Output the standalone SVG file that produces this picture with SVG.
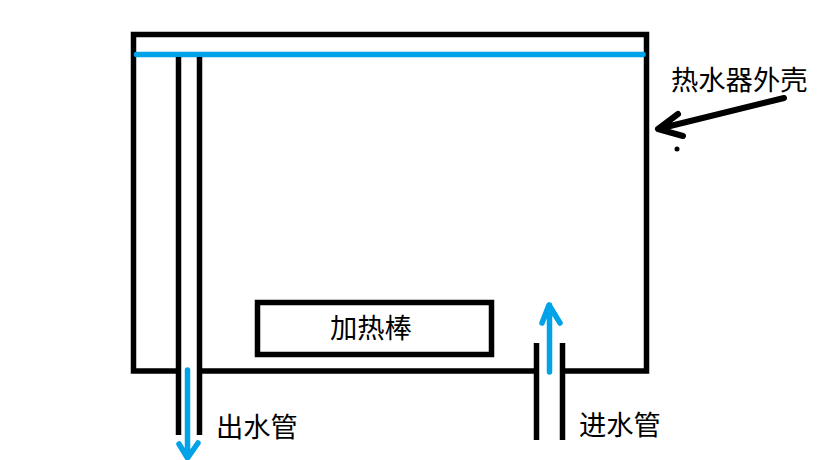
<svg xmlns="http://www.w3.org/2000/svg" width="819" height="460" viewBox="0 0 819 460">
<style>
.box{fill:none;stroke:#000;stroke-width:5.500}
.k{fill:none;stroke:#000;stroke-width:5.500}
.b{fill:none;stroke:#00a2e8;stroke-width:5.500;stroke-linecap:round;stroke-linejoin:round}
.a{fill:none;stroke:#000;stroke-width:6;stroke-linecap:round;stroke-linejoin:round}
text{font-family:"Noto Sans CJK SC","Noto Sans",sans-serif;font-size:27.300px;fill:#000}
</style>
<rect width="819" height="460" fill="#fff"/>
<g id="shell">
<path class="k" d="M181 371H133.500V34.500H646.500V371H560M534 371H197"/>
<line class="b" x1="136.500" y1="54.500" x2="643" y2="54.500"/>
</g>
<g id="heater">
<rect class="box" x="257.500" y="302.500" width="234" height="52"/>
<text x="330" y="338">加热棒</text>
</g>
<g id="outlet">
<path class="k" d="M178.500 57V435M199.500 57V435"/>
<text x="216" y="436.500">出水管</text>
</g>
<g id="inlet">
<path class="k" d="M536.500 343V440M562.500 343V440"/>
<text x="579" y="434.500">进水管</text>
</g>
<g id="shell-label">
<text x="671" y="89.500">热水器外壳</text>
<circle cx="677" cy="149" r="2.500" fill="#000"/>
</g>
<g id="connectors">
<path class="b" d="M187.500 370V457M179 444L187.500 458L198 443"/>
<path class="b" d="M549.500 372V305M542 323L549 305L560 323"/>
<path class="a" d="M784 98L658 129M678 114L658 129L683 136"/>
</g>
</svg>
